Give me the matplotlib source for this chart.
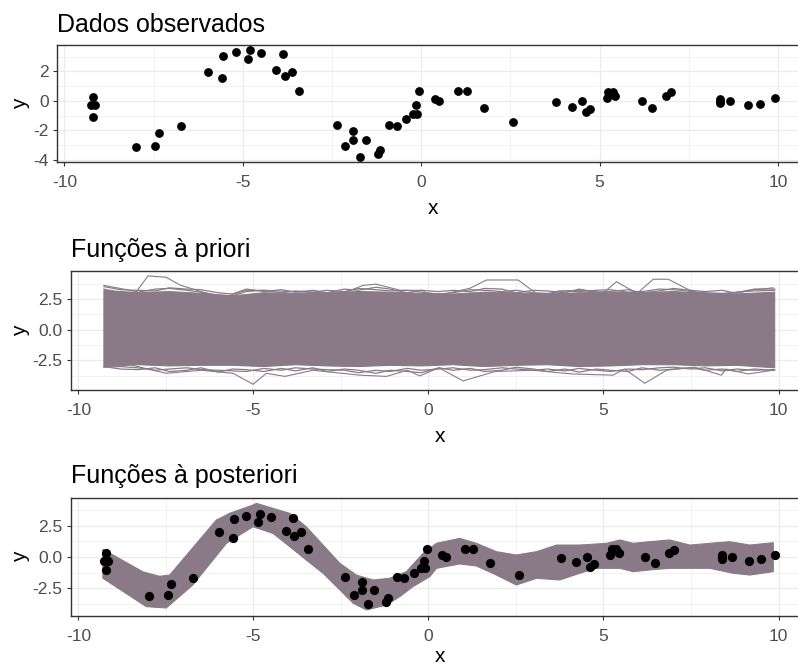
import numpy as np
import matplotlib
matplotlib.use("Agg")
import matplotlib.pyplot as plt

plt.rcParams['font.family'] = ['Liberation Sans', 'DejaVu Sans']
plt.rcParams['axes.unicode_minus'] = False

# observed points
obs_x = [-9.21, -9.26, -9.15, -9.21, -7.99, -7.45, -7.36, -6.73, -5.99, -5.59,
         -5.56, -5.20, -4.86, -4.81, -4.49, -4.07, -3.87, -3.83, -3.63, -3.43,
         -2.37, -2.14, -1.91, -1.91, -1.72, -1.55, -1.20, -1.16, -0.90, -0.69,
         -0.42, -0.22, -0.11, -0.14, -0.05, 0.40, 0.50, 1.03, 1.28, 1.75,
         2.58, 3.78, 4.22, 4.52, 4.61, 4.74, 5.20, 5.23, 5.37, 5.44,
         6.19, 6.46, 6.87, 7.01, 8.38, 8.38, 8.38, 8.66, 9.17, 9.50, 9.91]
obs_y = [0.29, -0.29, -0.29, -1.07, -3.15, -3.06, -2.20, -1.72, 1.99, 1.52,
         3.06, 3.33, 2.83, 3.42, 3.24, 2.08, 3.15, 1.70, 1.99, 0.68,
         -1.61, -3.06, -2.02, -2.68, -3.81, -2.68, -3.63, -3.33, -1.63, -1.72,
         -1.25, -0.92, -0.92, -0.29, 0.68, 0.14, 0.00, 0.66, 0.66, -0.48,
         -1.43, -0.09, -0.39, -0.02, -0.79, -0.57, 0.16, 0.61, 0.61, 0.36,
         -0.02, -0.48, 0.36, 0.57, 0.14, 0.00, -0.17, -0.02, -0.29, -0.20, 0.18]

# prior functions: dense core and its ragged edges
prior_x = [-9.27, -8.3, -7.4, -6.5, -5.6, -4.7, -3.8, -2.9, -2.0, -1.1, -0.2,
           0.7, 1.6, 2.5, 3.4, 4.3, 5.2, 6.1, 7.0, 7.9, 8.8, 9.89]
core_top = [3.2, 3.0, 3.1, 2.95, 2.75, 3.0, 2.95, 3.0, 3.1, 3.05, 2.95,
            2.9, 3.05, 3.0, 2.9, 3.0, 3.05, 3.0, 3.1, 2.95, 2.9, 3.05]
core_bot = [-3.0, -2.85, -2.95, -2.9, -2.9, -3.0, -2.85, -2.95, -3.0, -2.9, -2.95,
            -2.85, -3.0, -2.9, -2.85, -3.0, -2.95, -2.85, -2.85, -2.95, -2.9, -3.1]

ragged_x = [-9.27, -8.8, -8.3, -7.8, -7.4, -6.9, -6.5, -6.0, -5.6, -5.2, -4.7,
            -4.2, -3.8, -3.3, -2.9, -2.4, -2.0, -1.5, -1.1, -0.6, -0.2, 0.3,
            0.7, 1.2, 1.6, 2.1, 2.5, 3.0, 3.4, 3.9, 4.3, 4.8, 5.2, 5.7, 6.1,
            6.6, 7.0, 7.5, 7.9, 8.4, 8.8, 9.3, 9.89]
ragged_top1 = [3.3, 3.0, 3.05, 3.3, 3.35, 3.2, 3.05, 2.8, 2.75, 3.1, 3.2,
               3.0, 3.15, 3.05, 3.2, 3.1, 3.35, 3.25, 3.15, 3.2, 3.05, 2.9,
               3.0, 3.25, 3.2, 3.1, 3.2, 3.0, 2.95, 3.15, 3.1, 3.2, 3.25, 3.05, 3.1,
               3.3, 3.25, 3.1, 3.0, 2.95, 3.05, 3.15, 3.2]
ragged_top2 = [3.5, 3.25, 3.2, 3.15, 3.4, 3.3, 3.25, 3.0, 2.9, 3.3, 3.1,
               3.25, 3.05, 3.2, 3.0, 3.3, 3.2, 3.45, 3.3, 3.0, 3.2, 3.1,
               3.2, 3.1, 3.35, 3.3, 3.0, 3.2, 3.15, 3.0, 3.3, 3.05, 3.1, 3.25, 3.0,
               3.15, 3.35, 3.2, 3.1, 3.2, 2.95, 3.3, 3.3]
ragged_bot1 = [-3.05, -3.0, -3.1, -3.3, -3.2, -3.1, -3.25, -3.3, -3.35, -3.4, -3.15,
               -3.3, -3.1, -3.2, -3.25, -3.3, -3.5, -3.3, -3.4, -3.15, -3.3, -3.2,
               -3.1, -3.3, -3.25, -3.1, -3.2, -3.3, -3.2, -3.35, -3.15, -3.3, -3.4, -3.2, -3.25,
               -3.1, -3.05, -3.2, -3.1, -3.35, -3.2, -3.3, -3.25]
ragged_bot2 = [-3.0, -3.2, -3.25, -3.1, -3.4, -3.3, -3.1, -3.45, -3.2, -3.25, -3.4,
               -3.15, -3.35, -3.1, -3.4, -3.2, -3.3, -3.55, -3.3, -3.4, -3.5, -3.1,
               -3.3, -3.15, -3.4, -3.3, -3.05, -3.2, -3.4, -3.2, -3.45, -3.2, -3.3, -3.4, -3.1,
               -3.3, -3.2, -3.1, -3.3, -3.2, -3.4, -3.2, -3.3]

outer_top_x = [-9.27, -8.34, -8.01, -7.49, -7.1, -6.5, -5.9, -5.2, -4.6, -4.0, -3.0,
               -2.4, -1.87, -1.5, -0.8, -0.16, 0.06, 0.6, 1.18, 1.66, 2.56, 3.27,
               3.7, 4.4, 5.0, 5.37, 5.96, 6.42, 6.85, 7.56, 8.32, 9.13, 9.85]
outer_top_y = [3.6, 3.1, 4.37, 4.26, 3.63, 3.1, 2.6, 3.2, 3.2, 3.1, 3.0,
               3.0, 3.6, 3.7, 3.2, 3.2, 2.6, 3.0, 3.36, 4.04, 4.04, 2.55,
               3.15, 3.2, 3.0, 3.9, 2.95, 4.1, 4.1, 3.06, 2.8, 3.2, 3.4]
outer_bot_x = [-9.27, -8.6, -7.49, -6.5, -5.58, -5.01, -4.63, -4.1, -3.3, -1.96,
               -1.2, -0.6, -0.25, 0.3, 0.99, 1.9, 2.99, 4.1, 5.27, 5.6, 6.18,
               6.8, 7.6, 8.37, 8.5, 9.13, 9.85]
outer_bot_y = [-3.0, -2.8, -3.55, -3.3, -3.55, -4.44, -3.55, -3.8, -3.3, -3.7,
               -3.8, -3.3, -3.76, -3.1, -4.17, -3.4, -3.3, -3.6, -3.7, -3.2, -4.36,
               -3.3, -3.05, -3.7, -3.2, -3.6, -3.3]

# posterior functions: upper and lower edge of the band
post_up_x = [-9.30, -8.15, -7.68, -7.39, -6.06, -5.68, -5.01, -4.91, -4.44, -3.96,
             -3.49, -2.53, -2.06, -1.58, -1.11, -0.63, -0.15, 0.23, 0.89, 1.37,
             1.94, 2.51, 3.09, 3.66, 4.32, 5.09, 5.47, 5.85, 6.32, 6.89, 7.47,
             8.04, 8.61, 9.18, 9.85]
post_up_y = [0.62, -1.2, -1.55, -1.45, 2.97, 3.51, 4.18, 4.31, 3.91, 3.51,
             2.43, -0.51, -1.45, -1.85, -1.71, -1.18, 0.30, 1.1, 1.5, 1.1,
             0.43, 0.16, 0.43, 0.96, 0.96, 1.1, 1.37, 1.1, 1.23, 1.37, 0.96,
             1.1, 1.23, 0.96, 1.15]
post_lo_x = [-9.30, -8.06, -7.49, -6.73, -5.77, -5.39, -5.01, -4.44, -3.96, -3.49,
             -3.01, -2.53, -2.15, -1.77, -1.2, -0.82, -0.44, 0.04, 0.23, 0.89,
             1.37, 1.94, 2.51, 3.09, 3.75, 4.32, 4.8, 5.47, 5.85, 6.32, 6.89,
             7.47, 8.04, 8.7, 9.18, 9.85]
post_lo_y = [-1.71, -3.99, -4.1, -2.25, 1.1, 1.77, 2.43, 1.9, 0.83, -0.24,
             -1.31, -2.65, -3.72, -4.26, -3.86, -3.19, -2.38, -1.58, -0.91, -0.56,
             -0.72, -1.45, -2.25, -1.71, -1.85, -1.31, -0.91, -0.91, -1.18, -1.04, -0.91,
             -0.91, -0.91, -1.31, -1.45, -1.18]

line_col = '#8a7a87'
W, H = 798, 665
fig = plt.figure(figsize=(W / 100, H / 100), dpi=100)


def box(l, t, r, b):
    return [l / W, 1 - b / H, (r - l) / W, (b - t) / H]


def style(ax, title, pad, yticks, yminor, ylim, labels, xlabelpad=6):
    ax.set_xlim(-10.21, 10.87)
    ax.set_ylim(*ylim)
    ax.set_xticks([-10, -5, 0, 5, 10])
    ax.set_xticklabels(['-10', '-5', '0', '5', '10'])
    ax.set_xticks([-7.5, -2.5, 2.5, 7.5], minor=True)
    ax.set_yticks(yticks)
    ax.set_yticklabels(labels)
    ax.set_yticks(yminor, minor=True)
    ax.grid(True, which='major', color='#ebebeb', linewidth=0.9)
    ax.grid(True, which='minor', color='#ebebeb', linewidth=0.45)
    ax.set_axisbelow(True)
    ax.tick_params(which='major', length=3, width=0.8, color='#333333',
                   labelcolor='#4d4d4d', labelsize=12.5)
    ax.tick_params(axis='x', pad=6.5)
    ax.tick_params(axis='y', pad=3)
    ax.tick_params(which='minor', length=0)
    for s in ax.spines.values():
        s.set_color('#333333')
        s.set_linewidth(1.0)
    ax.set_xlabel('x', fontsize=15, labelpad=xlabelpad)
    ax.set_ylabel('y', fontsize=15, labelpad=2)
    ax.set_title(title, loc='left', fontsize=18, pad=pad)


ax1 = fig.add_axes(box(57, 45, 809, 162.3))
ax1.scatter(obs_x, obs_y, s=40, color='black', zorder=3, linewidths=0)
style(ax1, 'Dados observados', 9.6, [-4, -2, 0, 2], [-3, -1, 1, 3],
      (-4.17, 3.79), ['-4', '-2', '0', '2'])

ax2 = fig.add_axes(box(71, 271, 809, 390.3))
ax2.fill(prior_x + prior_x[::-1], core_top + core_bot[::-1],
         color=line_col, linewidth=0.8, zorder=2)
for ys in (ragged_top1, ragged_top2, ragged_bot1, ragged_bot2):
    ax2.plot(ragged_x, ys, color=line_col, lw=0.9, zorder=2)
ax2.plot(outer_top_x, outer_top_y, color=line_col, lw=0.8, zorder=2)
ax2.plot(outer_bot_x, outer_bot_y, color=line_col, lw=0.8, zorder=2)
style(ax2, 'Funções à priori', 10.3, [-2.5, 0, 2.5], [-3.75, -1.25, 1.25, 3.75],
      (-4.93, 4.77), ['-2.5', '0.0', '2.5'])

ax3 = fig.add_axes(box(71, 498.3, 809, 615.7))
ax3.fill(post_up_x + post_lo_x[::-1], post_up_y + post_lo_y[::-1],
         color=line_col, linewidth=0.8, zorder=2)
ax3.scatter(obs_x, obs_y, s=44, color='black', zorder=3, linewidths=0)
style(ax3, 'Funções à posteriori', 10.8, [-2.5, 0, 2.5], [-3.75, -1.25, 1.25, 3.75],
      (-4.72, 4.72), ['-2.5', '0.0', '2.5'], xlabelpad=2.5)

fig.savefig('out.png', dpi=100)
